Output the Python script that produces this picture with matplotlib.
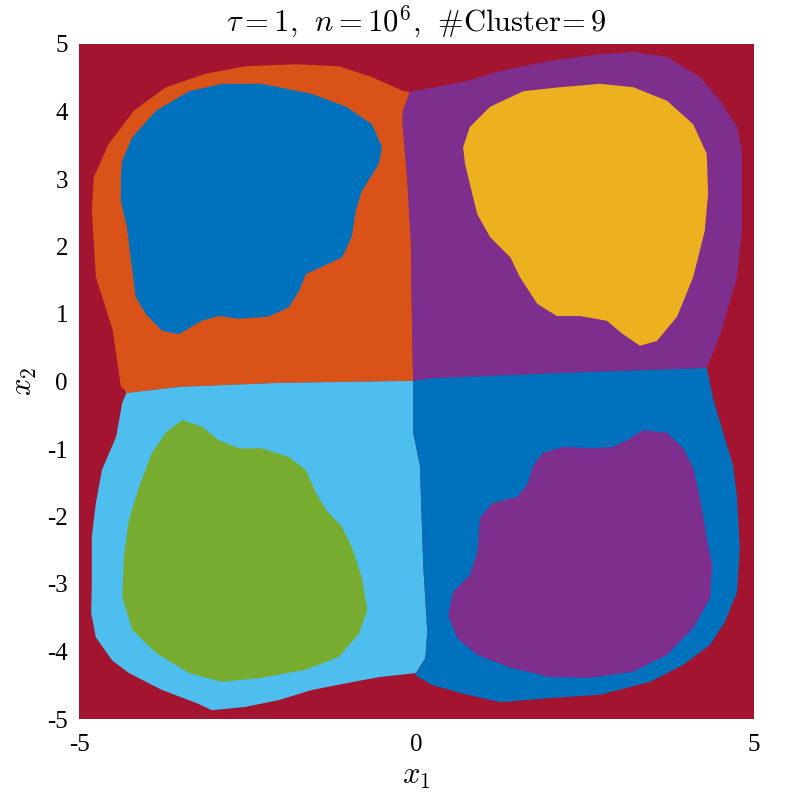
import matplotlib
matplotlib.use('Agg')
import matplotlib.pyplot as plt

plt.rcParams['mathtext.fontset'] = 'cm'
plt.rcParams['font.family'] = 'Liberation Serif'
plt.rcParams['axes.unicode_minus'] = False

# cluster region boundaries (x1, x2)
orange_x = [-4.32, -4.38, -4.50, -4.75, -4.81, -4.78, -4.56, -4.19, -3.71, -3.12, -2.53, -1.79, -1.15,
            -0.66, -0.19, -0.10, -0.20, -0.21, -0.14, -0.08, -0.07, -0.05, -2.04, -3.52, -4.30]
orange_y = [-0.13, -0.08, 0.76, 1.55, 2.53, 3.03, 3.52, 4.01, 4.36, 4.56, 4.67, 4.70, 4.67,
            4.51, 4.30, 4.29, 4.01, 3.86, 3.03, 2.04, 1.04, 0.01, -0.02, -0.08, -0.17]

purple_x = [-0.10, 0.75, 1.24, 1.98, 2.72, 3.21, 3.71, 4.20, 4.50, 4.75, 4.82, 4.82, 4.75, 4.50, 4.30,
            2.23, 0.24, -0.05, -0.07, -0.08, -0.14, -0.21, -0.20]
purple_y = [4.29, 4.45, 4.60, 4.75, 4.85, 4.88, 4.81, 4.51, 4.16, 3.77, 3.41, 2.23, 1.55, 0.70, 0.20,
            0.13, 0.05, 0.01, 1.04, 2.04, 3.03, 3.86, 4.01]

lightblue_x = [-4.30, -4.36, -4.45, -4.66, -4.75, -4.81, -4.81, -4.82, -4.75, -4.51, -4.26, -3.77, -3.27,
               -3.03, -2.53, -2.04, -1.55, -1.04, -0.56, -0.01, 0.13, 0.16, 0.10, 0.05, -0.05, -0.05,
               -2.04, -3.52]
lightblue_y = [-0.17, -0.32, -0.82, -1.31, -1.80, -2.30, -3.04, -3.43, -3.79, -4.13, -4.32, -4.57, -4.76,
               -4.87, -4.82, -4.72, -4.57, -4.47, -4.38, -4.32, -4.10, -3.71, -2.72, -1.24, -0.75, 0.01,
               -0.02, -0.08]

blue_x = [-0.05, 0.24, 2.23, 4.30, 4.39, 4.54, 4.69, 4.75, 4.79, 4.75, 4.57, 4.35, 3.95, 3.46, 2.72,
          1.98, 1.24, 0.75, 0.24, -0.02, 0.13, 0.16, 0.10, 0.05, -0.05]
blue_y = [0.01, 0.05, 0.13, 0.20, -0.24, -0.75, -1.24, -1.73, -2.47, -3.12, -3.56, -3.90, -4.20, -4.45,
          -4.64, -4.69, -4.75, -4.64, -4.50, -4.35, -4.10, -3.71, -2.72, -1.24, -0.75]

core_blue_x = [-4.38, -4.36, -4.21, -3.86, -3.37, -2.88, -2.29, -1.55, -1.04, -0.66, -0.51, -0.56, -0.81,
               -0.90, -0.96, -1.10, -1.40, -1.64, -1.74, -1.89, -2.19, -2.63, -2.93, -3.18, -3.52,
               -3.77, -4.01, -4.16, -4.23, -4.29, -4.38]
core_blue_y = [3.03, 3.27, 3.62, 4.01, 4.30, 4.41, 4.41, 4.26, 4.07, 3.81, 3.47, 3.22, 2.82,
               2.53, 2.14, 1.84, 1.70, 1.59, 1.34, 1.10, 0.96, 0.93, 0.97, 0.90, 0.70,
               0.75, 1.00, 1.25, 1.79, 2.29, 2.67]

core_yellow_x = [0.69, 0.79, 1.09, 1.58, 2.13, 2.72, 3.21, 3.71, 4.10, 4.30, 4.32, 4.27, 4.10, 3.86,
                 3.56, 3.31, 3.06, 2.82, 2.42, 2.08, 1.79, 1.53, 1.39, 1.09, 0.90, 0.79, 0.72]
core_yellow_y = [3.47, 3.77, 4.07, 4.30, 4.36, 4.41, 4.36, 4.16, 3.81, 3.37, 2.78, 2.23, 1.55, 0.96,
                 0.60, 0.53, 0.70, 0.90, 0.97, 0.97, 1.15, 1.55, 1.84, 2.14, 2.48, 2.93, 3.22]

core_green_x = [-3.47, -3.71, -3.92, -4.11, -4.26, -4.33, -4.36, -4.21, -3.86, -3.37, -2.88, -2.29,
                -1.64, -1.15, -0.85, -0.73, -0.81, -0.96, -1.10, -1.34, -1.49, -1.64, -1.89, -2.29,
                -2.63, -2.93, -3.18]
core_green_y = [-0.57, -0.75, -1.06, -1.56, -2.05, -2.54, -3.19, -3.68, -4.02, -4.32, -4.45, -4.39,
                -4.27, -4.08, -3.73, -3.39, -2.90, -2.45, -2.16, -1.90, -1.65, -1.31, -1.12, -0.99,
                -0.99, -0.87, -0.67]

core_purple_x = [3.36, 3.71, 3.95, 4.10, 4.20, 4.30, 4.38, 4.35, 4.10, 3.71, 3.21, 2.57, 1.98, 1.39,
                 0.90, 0.60, 0.47, 0.54, 0.79, 0.90, 0.94, 1.13, 1.49, 1.64, 1.73, 1.87, 2.17, 2.61,
                 2.91, 3.12]
core_purple_y = [-0.72, -0.76, -0.99, -1.28, -1.73, -2.32, -2.72, -3.21, -3.65, -4.05, -4.30, -4.39,
                 -4.38, -4.24, -4.05, -3.80, -3.46, -3.12, -2.87, -2.53, -2.02, -1.80, -1.71, -1.53,
                 -1.24, -1.06, -0.97, -0.99, -0.97, -0.87]

red = '#A2142F'
regions = [
    (orange_x, orange_y, '#D95319'),
    (purple_x, purple_y, '#7E2F8E'),
    (lightblue_x, lightblue_y, '#4DBEEE'),
    (blue_x, blue_y, '#0072BD'),
    (core_blue_x, core_blue_y, '#0072BD'),
    (core_yellow_x, core_yellow_y, '#EDB120'),
    (core_green_x, core_green_y, '#77AC30'),
    (core_purple_x, core_purple_y, '#7E2F8E'),
]

fig = plt.figure(figsize=(7.89, 7.99), dpi=100)
ax = fig.add_axes([79 / 789, 80 / 799, 675 / 789, 675 / 799])
ax.set_facecolor(red)

for xs, ys, c in regions:
    ax.fill(xs, ys, color=c, linewidth=0)

ax.set_xlim(-5, 5)
ax.set_ylim(-5, 5)
ax.set_xticks([-5, 0, 5])
ax.set_yticks(range(-5, 6))
ax.tick_params(length=0, labelsize=18)
ax.tick_params(axis='x', pad=11)
ax.tick_params(axis='y', pad=8)
for s in ax.spines.values():
    s.set_visible(False)

ax.set_title(r'$\tau=1,\;\, n=10^6,\;\, \#\mathrm{Cluster}\!=9$', fontsize=22, pad=9)
ax.set_xlabel(r'$x_1$', fontsize=22, labelpad=4)
ax.set_ylabel(r'$x_2$', fontsize=22, labelpad=6)

fig.savefig('out.png', dpi=100)
